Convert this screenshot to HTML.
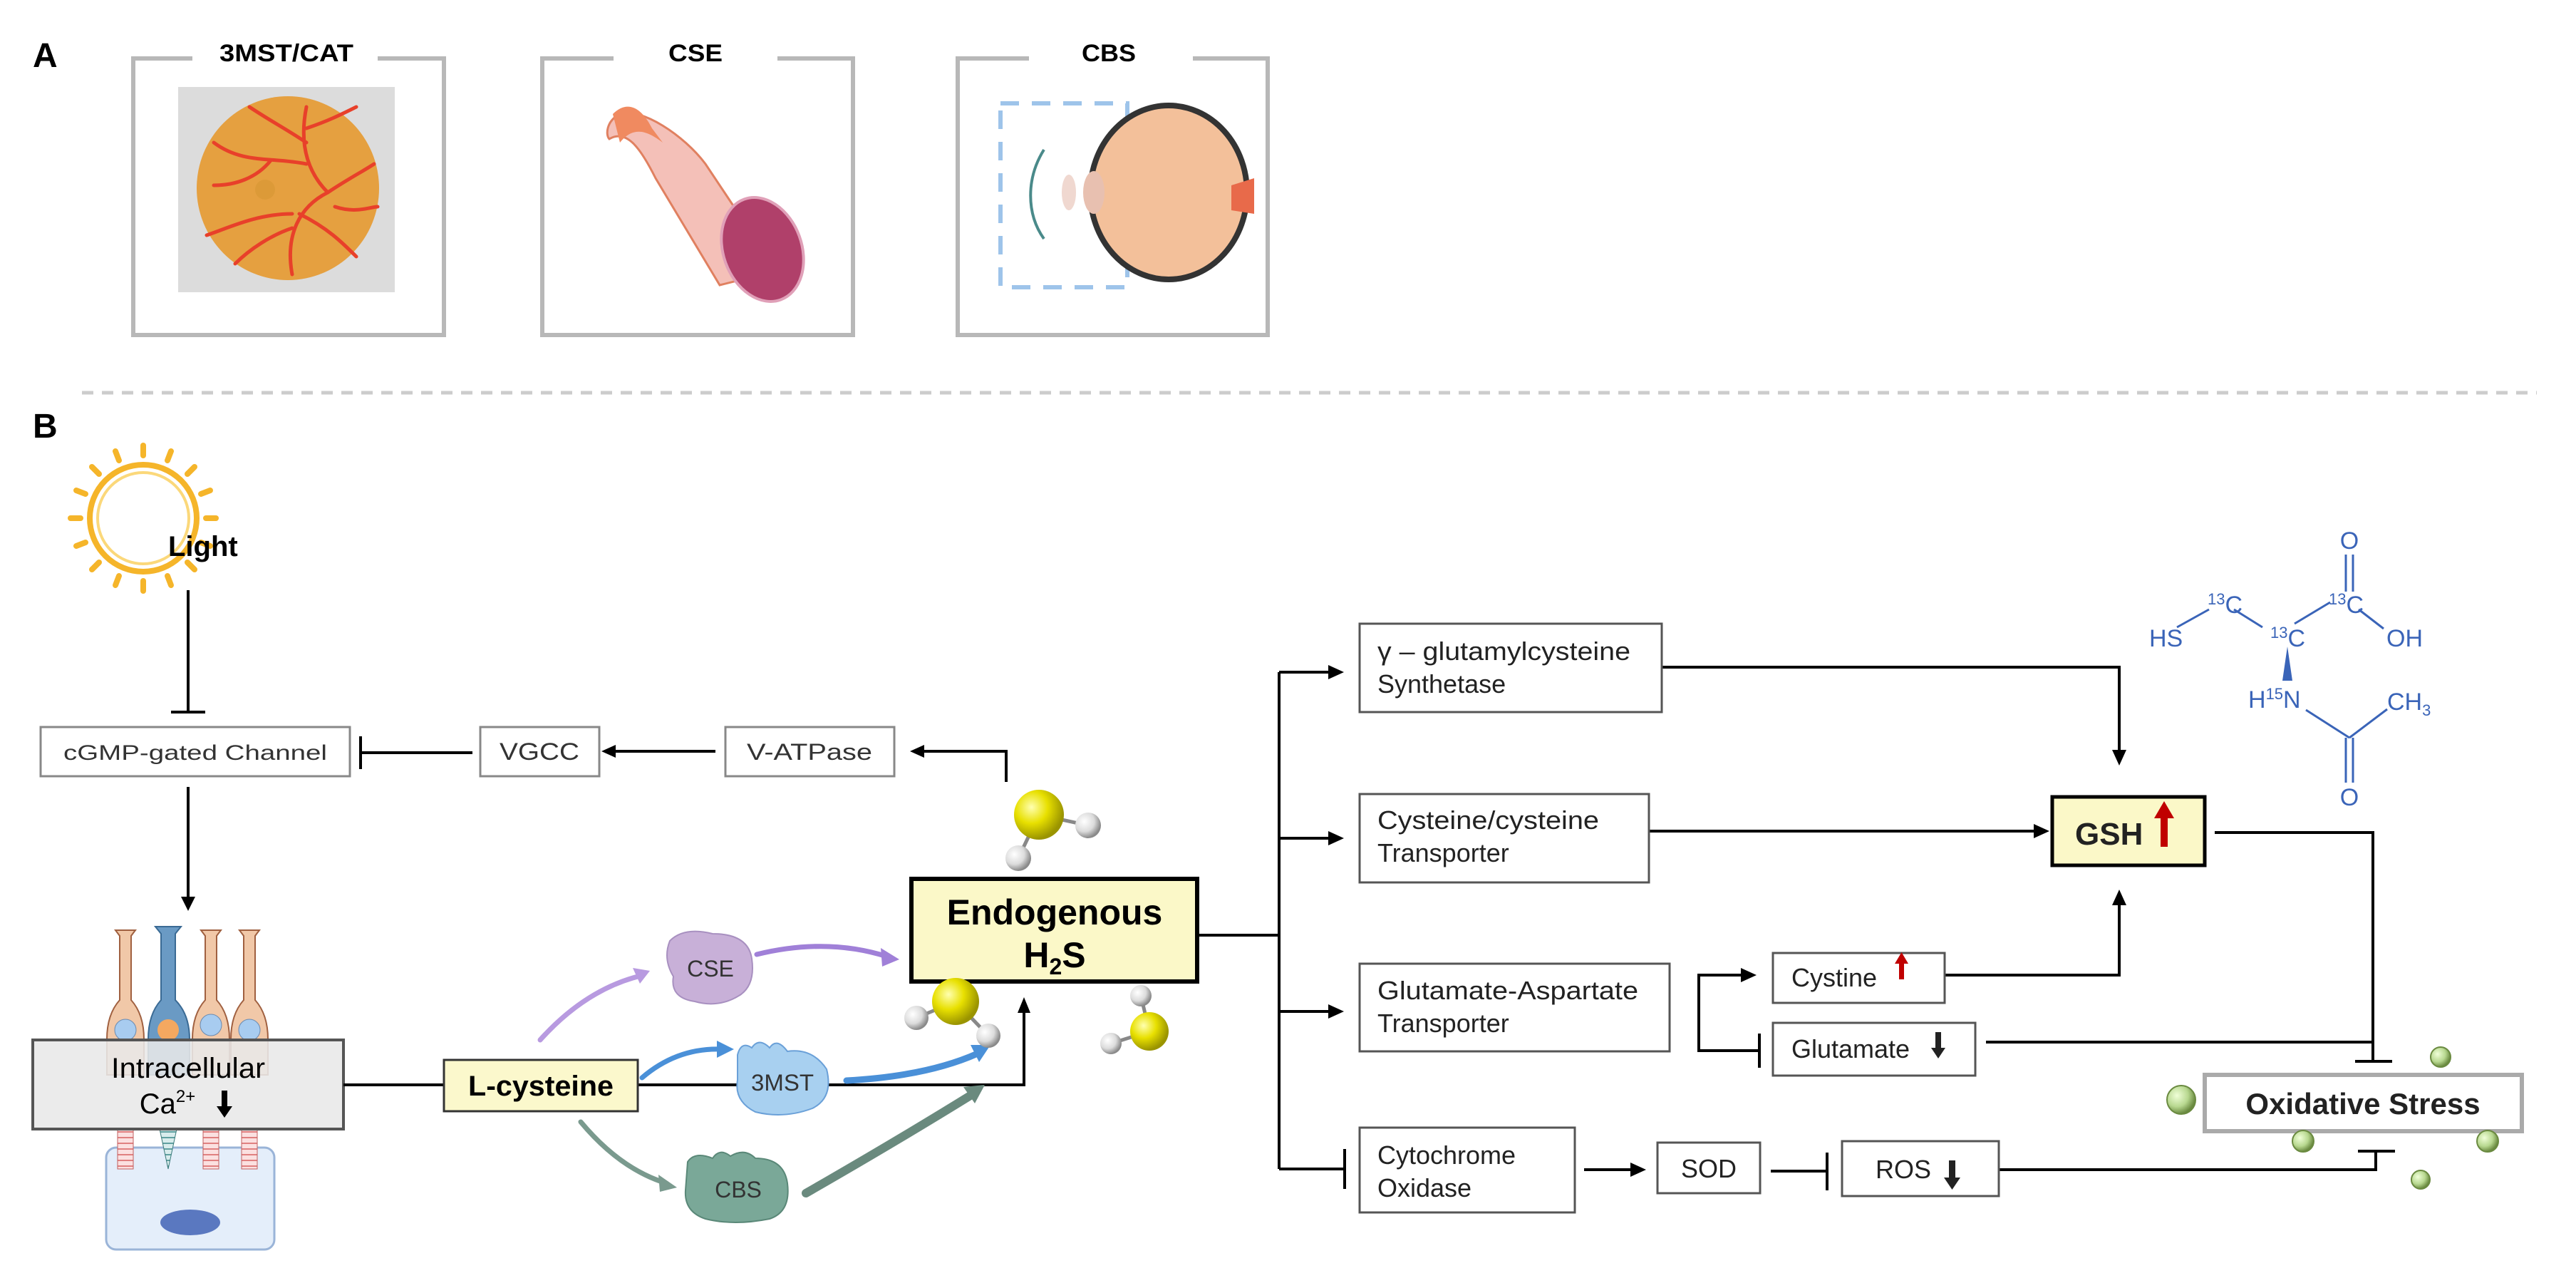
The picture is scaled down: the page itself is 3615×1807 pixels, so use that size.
<!DOCTYPE html>
<html><head><meta charset="utf-8"><style>
html,body{margin:0;padding:0;background:#fff;}
svg{display:block;}
text{font-family:"Liberation Sans",Arial,sans-serif;}
</style></head><body>
<svg width="3615" height="1807" viewBox="0 0 3615 1807" xmlns="http://www.w3.org/2000/svg">
<defs>
<radialGradient id="yb" cx="35%" cy="35%" r="65%"><stop offset="0" stop-color="#ffffb0"/><stop offset="0.5" stop-color="#e8e000"/><stop offset="1" stop-color="#9a9400"/></radialGradient>
<radialGradient id="wb" cx="35%" cy="35%" r="65%"><stop offset="0" stop-color="#ffffff"/><stop offset="0.6" stop-color="#dcdcdc"/><stop offset="1" stop-color="#8a8a8a"/></radialGradient>
<radialGradient id="gb" cx="35%" cy="35%" r="65%"><stop offset="0" stop-color="#f0ffd8"/><stop offset="0.6" stop-color="#b8d890"/><stop offset="1" stop-color="#6a8a40"/></radialGradient>
<pattern id="stripe" width="10" height="8" patternUnits="userSpaceOnUse"><rect width="10" height="8" fill="#fbe0e0"/><line x1="0" y1="4" x2="10" y2="4" stroke="#e08080" stroke-width="2"/></pattern>
<pattern id="stripe2" width="10" height="8" patternUnits="userSpaceOnUse"><rect width="10" height="8" fill="#d8ecec"/><line x1="0" y1="4" x2="10" y2="4" stroke="#60a0a0" stroke-width="2"/></pattern>
</defs>

<!-- PANEL A -->
<text x="46" y="94" font-size="48" font-weight="bold">A</text>
<g fill="none" stroke="#b8b8b8" stroke-width="6">
<path d="M270 82 H187 V470 H623 V82 H530"/>
<path d="M861 82 H761 V470 H1197 V82 H1091"/>
<path d="M1444 82 H1344 V470 H1779 V82 H1674"/>
</g>
<text x="402" y="86" font-size="34" font-weight="bold" text-anchor="middle" textLength="188" lengthAdjust="spacingAndGlyphs">3MST/CAT</text>
<text x="976" y="86" font-size="34" font-weight="bold" text-anchor="middle" textLength="76" lengthAdjust="spacingAndGlyphs">CSE</text>
<text x="1556" y="86" font-size="34" font-weight="bold" text-anchor="middle" textLength="76" lengthAdjust="spacingAndGlyphs">CBS</text>

<!-- retina -->
<rect x="250" y="122" width="304" height="288" fill="#dcdcdc"/>
<ellipse cx="404" cy="264" rx="128" ry="129" fill="#e5a040"/>
<g stroke="#e8402a" stroke-width="5" fill="none" stroke-linecap="round">
<path d="M460 270 C430 240 420 200 430 150 M430 200 C400 180 380 170 350 150 M430 180 C460 170 480 160 500 150"/>
<path d="M460 270 C420 290 400 330 410 385 M410 320 C380 330 350 350 330 370 M420 300 C460 320 480 340 500 360"/>
<path d="M430 230 C380 220 340 230 300 200 M380 225 C360 250 330 260 300 260"/>
<path d="M410 300 C360 300 320 320 290 330 M460 270 C490 250 510 240 525 230"/>
<path d="M470 290 C500 300 520 290 530 290"/>
</g>
<circle cx="372" cy="266" r="14" fill="#dc9a38"/>
<!-- artery -->
<path d="M855 195 C880 180 900 210 920 250 L1010 400 L1090 380 L990 230 C960 190 900 150 870 160 C850 170 850 190 855 195Z" fill="#f4c0b8" stroke="#e08060" stroke-width="3"/>
<path d="M860 160 C880 140 900 150 915 180 L930 200 C910 185 890 175 870 200 Z" fill="#f08a60"/>
<ellipse cx="1070" cy="350" rx="55" ry="75" transform="rotate(-20 1070 350)" fill="#b0406a" stroke="#e0a0b8" stroke-width="4"/>
<!-- eye -->
<rect x="1404" y="145" width="178" height="258" fill="none" stroke="#9ec4ea" stroke-width="6" stroke-dasharray="26 18"/>
<ellipse cx="1640" cy="270" rx="110" ry="122" fill="#f3c09a" stroke="#333" stroke-width="8"/>
<path d="M1728 260 L1760 250 L1760 300 L1728 295Z" fill="#e86a4a"/>
<path d="M1465 210 C1440 250 1440 300 1465 335" fill="none" stroke="#4a8a8a" stroke-width="4"/>
<ellipse cx="1500" cy="270" rx="10" ry="25" fill="#f0d8d0"/>
<ellipse cx="1535" cy="270" rx="15" ry="30" fill="#e8c0b0"/>

<!-- dashed separator -->
<line x1="115" y1="551" x2="3560" y2="551" stroke="#cccccc" stroke-width="5" stroke-dasharray="16 12"/>
<text x="46" y="614" font-size="48" font-weight="bold">B</text>

<!-- sun -->
<g transform="translate(201,727)">
<circle r="75" fill="none" stroke="#f5b52a" stroke-width="8"/>
<circle r="64" fill="none" stroke="#fbd87a" stroke-width="4"/>
<g stroke="#f5b52a" stroke-width="8" stroke-linecap="round">
<line x1="0" y1="-88" x2="0" y2="-102"/><line x1="0" y1="88" x2="0" y2="102"/>
<line x1="-88" y1="0" x2="-102" y2="0"/><line x1="88" y1="0" x2="102" y2="0"/>
<line x1="62" y1="62" x2="72" y2="72"/><line x1="-62" y1="62" x2="-72" y2="72"/>
<line x1="62" y1="-62" x2="72" y2="-72"/><line x1="-62" y1="-62" x2="-72" y2="-72"/>
<line x1="34" y1="-81" x2="39" y2="-94"/><line x1="-34" y1="-81" x2="-39" y2="-94"/>
<line x1="34" y1="81" x2="39" y2="94"/><line x1="-34" y1="81" x2="-39" y2="94"/>
<line x1="81" y1="34" x2="94" y2="39"/><line x1="-81" y1="34" x2="-94" y2="39"/>
<line x1="81" y1="-34" x2="94" y2="-39"/><line x1="-81" y1="-34" x2="-94" y2="-39"/>
</g>
</g>
<text x="236" y="780" font-size="40" font-weight="bold">Light</text>

<g stroke="#000" stroke-width="4" fill="none">
<line x1="264" y1="828" x2="264" y2="998"/>
<line x1="240" y1="999" x2="288" y2="999"/>
<line x1="264" y1="1104" x2="264" y2="1262"/>
<line x1="505" y1="1056" x2="663" y2="1056"/>
<line x1="506" y1="1033" x2="506" y2="1079"/>
<line x1="860" y1="1054" x2="1004" y2="1054"/>
<path d="M1412 1097 V1054 H1294"/>
</g>
<g fill="#000">
<path d="M254 1258 L274 1258 L264 1278Z"/>
<path d="M844 1054 L864 1045 L864 1063Z"/>
<path d="M1277 1054 L1297 1045 L1297 1063Z"/>
</g>

<g font-size="30" fill="#333">
<rect x="57" y="1020" width="434" height="69" fill="#fff" stroke="#888" stroke-width="3"/>
<text x="274" y="1066" text-anchor="middle" textLength="370" lengthAdjust="spacingAndGlyphs">cGMP-gated Channel</text>
<rect x="674" y="1020" width="167" height="69" fill="#fff" stroke="#888" stroke-width="3"/>
<text x="757" y="1066" text-anchor="middle" font-size="34" textLength="112" lengthAdjust="spacingAndGlyphs">VGCC</text>
<rect x="1018" y="1020" width="237" height="69" fill="#fff" stroke="#888" stroke-width="3"/>
<text x="1136" y="1066" text-anchor="middle" font-size="32" textLength="176" lengthAdjust="spacingAndGlyphs">V-ATPase</text>
</g>

<!-- photoreceptors -->
<rect x="149" y="1610" width="236" height="143" rx="14" fill="#e4eefa" stroke="#9ab4d8" stroke-width="3"/>
<ellipse cx="267" cy="1715" rx="42" ry="18" fill="#5a78c0"/>
<g stroke="#a06040" stroke-width="2">
<path d="M162 1305 h28 l-6 8 v90 q18 20 18 55 v50 h-52 v-50 q0 -35 18 -55 v-90z" fill="#f1c8a8"/>
<path d="M282 1305 h28 l-6 8 v90 q18 20 18 55 v50 h-52 v-50 q0 -35 18 -55 v-90z" fill="#f1c8a8"/>
<path d="M336 1305 h28 l-6 8 v90 q18 20 18 55 v50 h-52 v-50 q0 -35 18 -55 v-90z" fill="#f1c8a8"/>
<path d="M218 1300 h36 l-8 10 v93 q20 20 20 55 v50 h-58 v-50 q0 -35 18 -55 v-93z" fill="#6a9ac4" stroke="#3a6a94"/>
</g>
<circle cx="176" cy="1445" r="15" fill="#a8ccf0" stroke="#6a8ab0"/><circle cx="296" cy="1438" r="15" fill="#a8ccf0" stroke="#6a8ab0"/>
<circle cx="350" cy="1445" r="15" fill="#a8ccf0" stroke="#6a8ab0"/><circle cx="236" cy="1445" r="15" fill="#f4a860"/>
<rect x="165" y="1584" width="22" height="56" fill="url(#stripe)" stroke="#c06060"/>
<rect x="285" y="1584" width="22" height="56" fill="url(#stripe)" stroke="#c06060"/>
<rect x="339" y="1584" width="22" height="56" fill="url(#stripe)" stroke="#c06060"/>
<path d="M224 1584 h24 l-12 56z" fill="url(#stripe2)" stroke="#3a7a7a"/>
<rect x="46" y="1459" width="436" height="125" fill="#e8e8e8" fill-opacity="0.88" stroke="#555" stroke-width="4"/>
<text x="264" y="1512" font-size="40" text-anchor="middle" textLength="216" lengthAdjust="spacingAndGlyphs">Intracellular</text>
<text x="235" y="1562" font-size="40" text-anchor="middle">Ca<tspan font-size="24" dy="-16">2+</tspan></text>
<path d="M311 1530 h8 v22 h7 l-11 16 l-11 -16 h7z" fill="#000"/>

<!-- L-cysteine line -->
<g stroke="#000" stroke-width="4" fill="none">
<line x1="482" y1="1522" x2="623" y2="1522"/>
<path d="M895 1522 H1437 V1420"/>
</g>
<path d="M1437 1399 L1428 1421 L1446 1421Z"/>
<rect x="623" y="1487" width="272" height="72" fill="#fbf8cc" stroke="#333" stroke-width="3"/>
<text x="759" y="1537" font-size="40" font-weight="bold" text-anchor="middle" textLength="204" lengthAdjust="spacingAndGlyphs">L-cysteine</text>

<!-- enzyme arrows -->
<g fill="none" stroke-width="7" stroke-linecap="round">
<path d="M758 1459 Q820 1390 895 1370" stroke="#b89ae0"/>
<path d="M1062 1339 Q1160 1315 1245 1342" stroke="#a080d8"/>
<path d="M901 1512 Q950 1470 1012 1472" stroke="#4a90d8"/>
<path d="M1188 1516 Q1300 1510 1372 1478" stroke="#4a90d8" stroke-width="9"/>
<path d="M815 1574 Q870 1640 935 1660" stroke="#7a9a8e"/>
<path d="M1131 1674 Q1260 1600 1365 1535" stroke="#6a8a7e" stroke-width="12"/>
</g>
<path d="M912 1362 L888 1358 L898 1380Z" fill="#b89ae0"/>
<path d="M1262 1346 L1236 1330 L1238 1356Z" fill="#a080d8"/>
<path d="M1030 1472 L1006 1460 L1006 1484Z" fill="#4a90d8"/>
<path d="M1390 1466 L1362 1466 L1374 1490Z" fill="#4a90d8"/>
<path d="M950 1666 L924 1648 L926 1672Z" fill="#7a9a8e"/>
<path d="M1382 1522 L1352 1525 L1368 1548Z" fill="#6a8a7e"/>

<!-- enzyme blobs -->
<path d="M940 1320 Q960 1300 1000 1310 Q1050 1310 1055 1345 Q1060 1380 1040 1395 Q1010 1415 975 1405 Q940 1400 945 1370 Q930 1345 940 1320Z" fill="#c8b0d8" stroke="#a890c0" stroke-width="2"/>
<text x="997" y="1370" font-size="32" text-anchor="middle" fill="#333">CSE</text>
<path d="M1035 1480 Q1040 1460 1055 1470 Q1065 1455 1080 1470 Q1090 1455 1105 1475 Q1140 1470 1160 1500 Q1170 1540 1140 1555 Q1100 1570 1060 1560 Q1030 1545 1035 1515Z" fill="#a8d0f0" stroke="#6aa0d8" stroke-width="2"/>
<text x="1098" y="1530" font-size="32" text-anchor="middle" fill="#333" textLength="88" lengthAdjust="spacingAndGlyphs">3MST</text>
<path d="M965 1630 Q975 1615 1000 1625 Q1010 1610 1025 1622 Q1045 1610 1060 1625 Q1100 1625 1105 1660 Q1110 1700 1080 1710 Q1030 1720 990 1710 Q960 1700 962 1670Z" fill="#7aa898" stroke="#5a8878" stroke-width="2"/>
<text x="1036" y="1680" font-size="32" text-anchor="middle" fill="#333">CBS</text>

<!-- H2S molecules -->
<g stroke="#888" stroke-width="5">
<line x1="1458" y1="1143" x2="1527" y2="1158"/><line x1="1458" y1="1143" x2="1429" y2="1204"/>
<line x1="1341" y1="1405" x2="1286" y2="1428"/><line x1="1341" y1="1405" x2="1387" y2="1453"/>
<line x1="1613" y1="1447" x2="1601" y2="1397"/><line x1="1613" y1="1447" x2="1559" y2="1464"/>
</g>
<circle cx="1527" cy="1158" r="18" fill="url(#wb)"/><circle cx="1429" cy="1204" r="18" fill="url(#wb)"/>
<circle cx="1458" cy="1143" r="35" fill="url(#yb)"/>

<!-- Endogenous -->
<line x1="1682" y1="1312" x2="1797" y2="1312" stroke="#000" stroke-width="4"/>
<rect x="1279" y="1233" width="401" height="144" fill="#fbf8c8" stroke="#000" stroke-width="6"/>
<text x="1480" y="1297" font-size="50" font-weight="bold" text-anchor="middle">Endogenous</text>
<text x="1480" y="1357" font-size="50" font-weight="bold" text-anchor="middle">H<tspan font-size="32" dy="10">2</tspan><tspan dy="-10">S</tspan></text>

<circle cx="1286" cy="1428" r="17" fill="url(#wb)"/><circle cx="1387" cy="1453" r="17" fill="url(#wb)"/>
<circle cx="1341" cy="1405" r="33" fill="url(#yb)"/>
<circle cx="1601" cy="1397" r="15" fill="url(#wb)"/><circle cx="1559" cy="1464" r="15" fill="url(#wb)"/>
<circle cx="1613" cy="1447" r="27" fill="url(#yb)"/>

<!-- RIGHT SIDE -->
<g stroke="#000" stroke-width="4" fill="none">
<line x1="1795" y1="943" x2="1795" y2="1640"/>
<line x1="1795" y1="943" x2="1868" y2="943"/>
<line x1="1795" y1="1176" x2="1868" y2="1176"/>
<line x1="1795" y1="1419" x2="1868" y2="1419"/>
<line x1="1795" y1="1640" x2="1887" y2="1640"/>
<line x1="1887" y1="1612" x2="1887" y2="1668"/>
<path d="M2332 936 H2974 V1056"/>
<line x1="2314" y1="1166" x2="2858" y2="1166"/>
<path d="M2729 1368 H2974 V1266"/>
<path d="M2447 1368 H2384 V1474 H2469"/>
<line x1="2469" y1="1450" x2="2469" y2="1498"/>
<path d="M2787 1462 H3330"/>
<path d="M3108 1168 H3330 V1489"/>
<line x1="3305" y1="1489" x2="3357" y2="1489"/>
<line x1="2223" y1="1641" x2="2292" y2="1641"/>
<line x1="2485" y1="1643" x2="2564" y2="1643"/>
<line x1="2564" y1="1617" x2="2564" y2="1670"/>
<path d="M2805 1641 H3334 V1615"/>
<line x1="3309" y1="1615" x2="3361" y2="1615"/>
</g>
<g fill="#000">
<path d="M1886 943 L1864 933 L1864 953Z"/>
<path d="M1886 1176 L1864 1166 L1864 1186Z"/>
<path d="M1886 1419 L1864 1409 L1864 1429Z"/>
<path d="M2974 1074 L2964 1052 L2984 1052Z"/>
<path d="M2876 1166 L2854 1156 L2854 1176Z"/>
<path d="M2974 1248 L2964 1270 L2984 1270Z"/>
<path d="M2465 1368 L2443 1358 L2443 1378Z"/>
<path d="M2310 1641 L2288 1631 L2288 1651Z"/>
</g>

<g font-size="36" fill="#222">
<rect x="1908" y="875" width="424" height="124" fill="#fff" stroke="#555" stroke-width="3"/>
<text x="1933" y="926" textLength="355" lengthAdjust="spacingAndGlyphs">γ – glutamylcysteine</text>
<text x="1933" y="972">Synthetase</text>
<rect x="1908" y="1114" width="406" height="124" fill="#fff" stroke="#555" stroke-width="3"/>
<text x="1933" y="1163" textLength="311" lengthAdjust="spacingAndGlyphs">Cysteine/cysteine</text>
<text x="1933" y="1209">Transporter</text>
<rect x="1908" y="1352" width="435" height="123" fill="#fff" stroke="#555" stroke-width="3"/>
<text x="1933" y="1402" textLength="366" lengthAdjust="spacingAndGlyphs">Glutamate-Aspartate</text>
<text x="1933" y="1448">Transporter</text>
<rect x="1908" y="1582" width="302" height="119" fill="#fff" stroke="#555" stroke-width="3"/>
<text x="1933" y="1633">Cytochrome</text>
<text x="1933" y="1679">Oxidase</text>
<rect x="2488" y="1337" width="241" height="70" fill="#fff" stroke="#555" stroke-width="3"/>
<text x="2514" y="1384">Cystine</text>
<rect x="2488" y="1435" width="284" height="74" fill="#fff" stroke="#555" stroke-width="3"/>
<text x="2514" y="1484">Glutamate</text>
<rect x="2326" y="1603" width="144" height="71" fill="#fff" stroke="#555" stroke-width="3"/>
<text x="2398" y="1652" text-anchor="middle">SOD</text>
<rect x="2585" y="1601" width="220" height="77" fill="#fff" stroke="#555" stroke-width="3"/>
<text x="2632" y="1653">ROS</text>
</g>
<path d="M2665 1374 h7 v-22 h6 l-9.5 -16 l-9.5 16 h6z" fill="#c00000"/>
<path d="M2716 1448 h8 v22 h6 l-10 15 l-10 -15 h6z" fill="#222"/>
<path d="M2735 1628 h9 v24 h7 l-11.5 17 l-11.5 -17 h7z" fill="#222"/>

<!-- GSH -->
<rect x="2880" y="1118" width="214" height="96" fill="#fbf8c8" stroke="#000" stroke-width="5"/>
<text x="2912" y="1185" font-size="44" font-weight="bold" fill="#222">GSH</text>
<path d="M3032 1188 h10 v-40 h9 l-14 -24 l-14 24 h9z" fill="#c00000"/>

<!-- Oxidative stress -->
<rect x="3094" y="1508" width="445" height="79" fill="#fff" stroke="#aaa" stroke-width="6"/>
<text x="3316" y="1563" font-size="42" font-weight="bold" text-anchor="middle" fill="#222">Oxidative Stress</text>
<circle cx="3425" cy="1483" r="14" fill="url(#gb)" stroke="#6a8a40" stroke-width="2"/>
<circle cx="3061" cy="1543" r="20" fill="url(#gb)" stroke="#6a8a40" stroke-width="2"/>
<circle cx="3232" cy="1601" r="15" fill="url(#gb)" stroke="#6a8a40" stroke-width="2"/>
<circle cx="3491" cy="1601" r="15" fill="url(#gb)" stroke="#6a8a40" stroke-width="2"/>
<circle cx="3397" cy="1655" r="13" fill="url(#gb)" stroke="#6a8a40" stroke-width="2"/>

<!-- molecule -->
<g stroke="#3a64b8" stroke-width="3" fill="none">
<line x1="3055" y1="880" x2="3100" y2="855"/>
<line x1="3135" y1="855" x2="3175" y2="880"/>
<line x1="3220" y1="875" x2="3270" y2="845"/>
<line x1="3310" y1="855" x2="3345" y2="882"/>
<line x1="3292" y1="778" x2="3292" y2="830"/><line x1="3302" y1="778" x2="3302" y2="830"/>
<line x1="3236" y1="996" x2="3297" y2="1035"/>
<line x1="3297" y1="1035" x2="3350" y2="995"/>
<line x1="3292" y1="1035" x2="3292" y2="1098"/><line x1="3302" y1="1035" x2="3302" y2="1098"/>
</g>
<path d="M3210 907 L3203 955 L3217 955Z" fill="#3a64b8"/>
<g fill="#3a64b8" font-size="34">
<text x="3297" y="770" text-anchor="middle">O</text>
<text x="3297" y="1130" text-anchor="middle">O</text>
<text x="3016" y="907">HS</text>
<text x="3098" y="860"><tspan font-size="22" dy="-12">13</tspan><tspan dy="12">C</tspan></text>
<text x="3186" y="907"><tspan font-size="22" dy="-12">13</tspan><tspan dy="12">C</tspan></text>
<text x="3268" y="860"><tspan font-size="22" dy="-12">13</tspan><tspan dy="12">C</tspan></text>
<text x="3349" y="907">OH</text>
<text x="3155" y="993">H<tspan font-size="22" dy="-12">15</tspan><tspan dy="12">N</tspan></text>
<text x="3350" y="996">CH<tspan font-size="22" dy="8">3</tspan></text>
</g>
</svg>
</body></html>
